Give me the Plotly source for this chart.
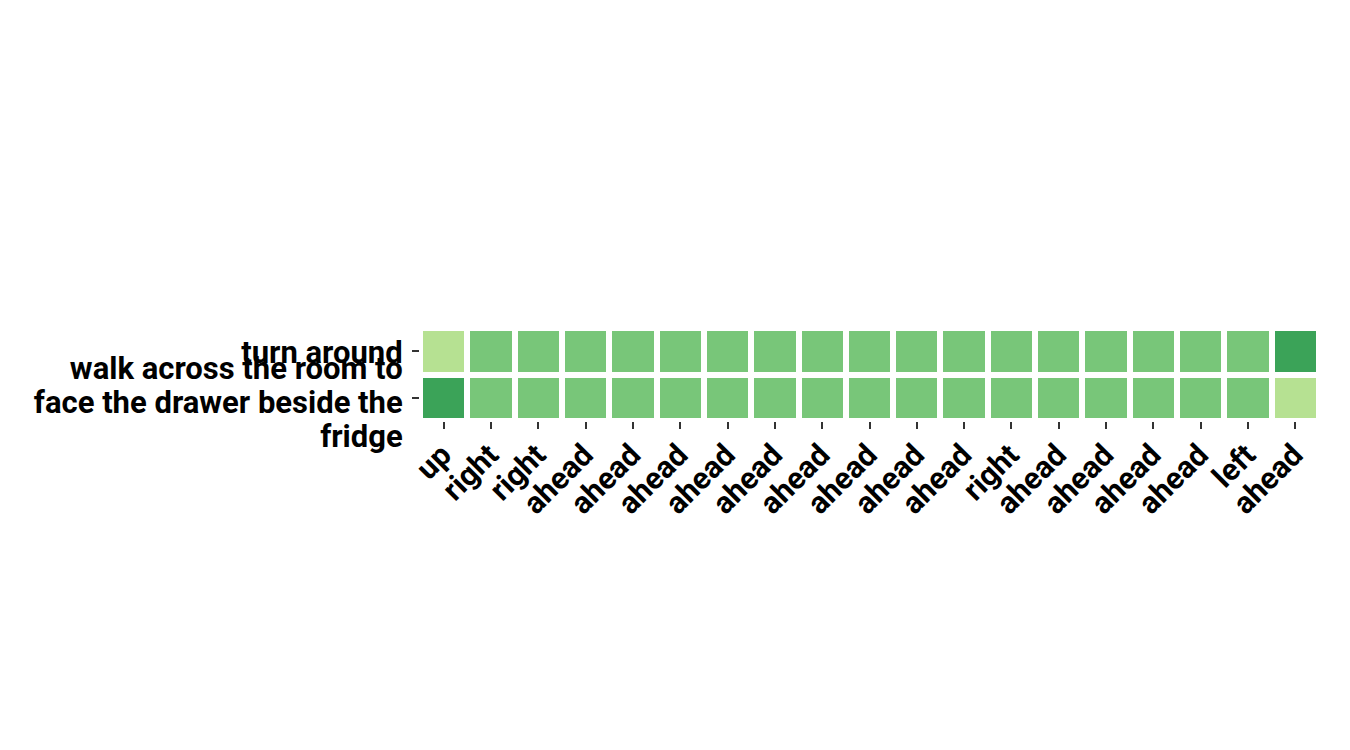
import plotly.graph_objects as go

x_labels = ["up", "right", "right", "ahead", "ahead", "ahead", "ahead", "ahead",
            "ahead", "ahead", "ahead", "ahead", "right", "ahead", "ahead", "ahead",
            "ahead", "left", "ahead"]
y_labels = ["turn around",
            "walk across the room to<br>face the drawer beside the<br>fridge"]

row_turn = [0.35, 0.5, 0.5, 0.5, 0.5, 0.5, 0.5, 0.5, 0.5, 0.5, 0.5, 0.5, 0.5, 0.5,
            0.5, 0.5, 0.5, 0.5, 0.65]
row_walk = [0.65, 0.5, 0.5, 0.5, 0.5, 0.5, 0.5, 0.5, 0.5, 0.5, 0.5, 0.5, 0.5, 0.5,
            0.5, 0.5, 0.5, 0.5, 0.35]

ylgn = ['#ffffe5', '#f7fcb9', '#d9f0a3', '#addd8e', '#78c679',
        '#41ab5d', '#238443', '#006837', '#004529']
colorscale = [[i / (len(ylgn) - 1), c] for i, c in enumerate(ylgn)]

xs = list(range(len(x_labels)))
ys = [0, 1]


def big(label, px=31):
    return "<br>".join(
        f"<span style='font-size:{px}px'><b>{line}</b></span>"
        for line in label.split("<br>")
    )


fig = go.Figure(go.Heatmap(
    z=[row_turn, row_walk],
    x=xs,
    y=ys,
    colorscale=colorscale,
    zmin=0, zmax=1,
    xgap=6, ygap=6,
    showscale=False,
    hoverinfo="skip",
))
# invisible helper trace so the second (label-only) y axis is drawn
fig.add_trace(go.Scatter(
    x=[xs[0]], y=[ys[1]], yaxis="y2", mode="markers",
    marker=dict(opacity=0), hoverinfo="skip", showlegend=False,
))

tf = dict(family="Roboto", size=26.5, color="black")
yrange = [len(ys) - 0.5, -0.5]

fig.update_layout(
    width=1350, height=750,
    margin=dict(l=420, r=31, t=328, b=329, pad=0),
    paper_bgcolor="white", plot_bgcolor="white",
    font=tf, showlegend=False,
    xaxis=dict(
        tickmode="array", tickvals=xs, ticktext=[big(t, 30.5) for t in x_labels],
        tickfont=tf, tickangle=-45, ticks="outside", ticklen=7, tickwidth=2,
        tickcolor="#333", showgrid=False, zeroline=False, showline=False,
        range=[-0.5, len(xs) - 0.5],
    ),
    yaxis=dict(
        tickmode="array", tickvals=[ys[0]], ticktext=[big(y_labels[0])],
        tickfont=tf, ticks="outside", ticklen=7, tickwidth=2, tickcolor="#333",
        ticklabelstandoff=4, ticklabelshift=-2,
        showgrid=False, zeroline=False, showline=False, range=yrange,
    ),
    yaxis2=dict(
        overlaying="y", side="left", anchor="x",
        tickmode="array", tickvals=[ys[1]], ticktext=[big(y_labels[1])],
        tickfont=tf, ticks="outside", ticklen=7, tickwidth=2, tickcolor="#333",
        ticklabelstandoff=4, ticklabelshift=-6,
        showgrid=False, zeroline=False, showline=False, range=yrange,
    ),
)

fig.write_html("out.html")
